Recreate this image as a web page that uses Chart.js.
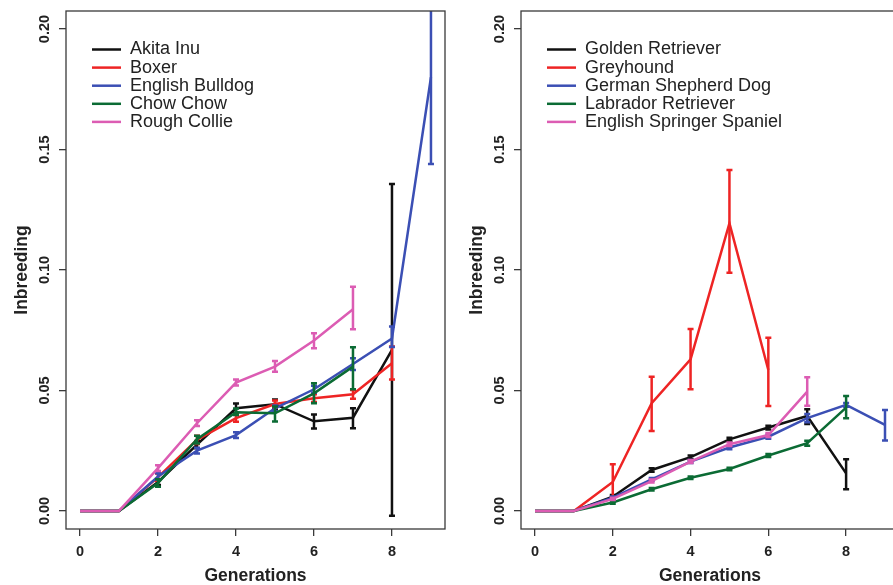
<!DOCTYPE html>
<html>
<head>
<meta charset="utf-8">
<script src="https://cdn.jsdelivr.net/npm/chart.js@4"></script>
<style>
  html, body { margin: 0; padding: 0; background: #fff; overflow: hidden; }
  #wrap { position: relative; width: 893px; height: 585px; overflow: hidden; }
  canvas { position: absolute; top: 0; }
  #left { left: 0; }
  #right { left: 455px; }
</style>
</head>
<body>
<div id="wrap">
  <canvas id="left" width="450" height="585"></canvas>
  <canvas id="right" width="449" height="585"></canvas>
</div>
<script>
// x values (generations) and axis ticks
const generations = [0, 1, 2, 3, 4, 5, 6, 7, 8, 9];
const xTickValues = [0, 2, 4, 6, 8];
const yTickValues = [0, 0.05, 0.10, 0.15, 0.20];

const breedColors = ['#111111', '#ee2424', '#3b4fb4', '#0b6b34', '#dc5cb3'];

// left panel
const leftBreeds = ['Akita Inu', 'Boxer', 'English Bulldog', 'Chow Chow', 'Rough Collie'];
const akitaInu      = [0, 0, 0.0120, 0.0275, 0.0426, 0.0443, 0.0372, 0.0387, 0.0668];
const akitaInuLow   = [null, null, 0.0108, 0.0260, 0.0406, 0.0423, 0.0342, 0.0343, -0.0020];
const akitaInuHigh  = [null, null, 0.0132, 0.0290, 0.0446, 0.0463, 0.0400, 0.0426, 0.1357];
const boxer         = [0, 0, 0.0140, 0.0295, 0.0385, 0.0444, 0.0468, 0.0484, 0.0613];
const boxerLow      = [null, null, 0.0125, 0.0278, 0.0370, 0.0430, 0.0452, 0.0466, 0.0546];
const boxerHigh     = [null, null, 0.0155, 0.0312, 0.0400, 0.0458, 0.0484, 0.0502, 0.0682];
const bulldog       = [0, 0, 0.0143, 0.0250, 0.0315, 0.0426, 0.0505, 0.0610, 0.0716, 0.1800];
const bulldogLow    = [null, null, 0.0130, 0.0238, 0.0303, 0.0414, 0.0490, 0.0585, 0.0680, 0.1440];
const bulldogHigh   = [null, null, 0.0156, 0.0262, 0.0327, 0.0438, 0.0520, 0.0634, 0.0765, 0.2150];
const chowChow      = [0, 0, 0.0116, 0.0298, 0.0410, 0.0405, 0.0488, 0.0599];
const chowChowLow   = [null, null, 0.0100, 0.0280, 0.0398, 0.0371, 0.0447, 0.0505];
const chowChowHigh  = [null, null, 0.0132, 0.0312, 0.0425, 0.0433, 0.0530, 0.0679];
const roughCollie   = [0, 0, 0.0178, 0.0364, 0.0533, 0.0599, 0.0707, 0.0837];
const roughCollieLow  = [null, null, 0.0166, 0.0352, 0.0521, 0.0578, 0.0675, 0.0754];
const roughCollieHigh = [null, null, 0.0190, 0.0376, 0.0546, 0.0622, 0.0737, 0.0930];

// right panel
const rightBreeds = ['Golden Retriever', 'Greyhound', 'German Shepherd Dog', 'Labrador Retriever', 'English Springer Spaniel'];
const golden        = [0, 0, 0.0059, 0.0170, 0.0223, 0.0297, 0.0346, 0.0394, 0.0156];
const goldenLow     = [null, null, 0.0052, 0.0163, 0.0216, 0.0290, 0.0338, 0.0361, 0.0090];
const goldenHigh    = [null, null, 0.0066, 0.0177, 0.0230, 0.0304, 0.0354, 0.0422, 0.0214];
const greyhound     = [0, 0, 0.0120, 0.0447, 0.0629, 0.1194, 0.0585];
const greyhoundLow  = [null, null, 0.0057, 0.0332, 0.0505, 0.0989, 0.0436];
const greyhoundHigh = [null, null, 0.0194, 0.0557, 0.0755, 0.1415, 0.0719];
const shepherd      = [0, 0, 0.0055, 0.0131, 0.0205, 0.0263, 0.0308, 0.0385, 0.0440, 0.0357];
const shepherdLow   = [null, null, 0.0050, 0.0125, 0.0199, 0.0256, 0.0300, 0.0368, 0.0432, 0.0292];
const shepherdHigh  = [null, null, 0.0060, 0.0137, 0.0211, 0.0270, 0.0316, 0.0402, 0.0448, 0.0419];
const labrador      = [0, 0, 0.0035, 0.0090, 0.0138, 0.0174, 0.0230, 0.0281, 0.0429];
const labradorLow   = [null, null, 0.0030, 0.0085, 0.0133, 0.0169, 0.0224, 0.0271, 0.0385];
const labradorHigh  = [null, null, 0.0040, 0.0095, 0.0143, 0.0179, 0.0236, 0.0291, 0.0477];
const springer      = [0, 0, 0.0050, 0.0124, 0.0205, 0.0277, 0.0315, 0.0495];
const springerLow   = [null, null, 0.0045, 0.0118, 0.0199, 0.0270, 0.0307, 0.0437];
const springerHigh  = [null, null, 0.0055, 0.0130, 0.0211, 0.0284, 0.0323, 0.0555];

Chart.defaults.font.family = "'Liberation Sans', Arial, Helvetica, sans-serif";

function buildDatasets(labels, values, lows, highs) {
  return labels.map((label, i) => ({
    label: label,
    data: values[i].map((v, g) => ({ x: generations[g], y: v })),
    errLow: lows[i],
    errHigh: highs[i],
    borderColor: breedColors[i],
    backgroundColor: breedColors[i],
    borderWidth: 2.5,
    pointRadius: 0,
    tension: 0,
    fill: false,
    order: -i, // later breeds drawn on top
  }));
}

// vertical error bars with small caps, drawn right after each line
const errorBars = {
  id: 'errorBars',
  afterDatasetDraw(chart, args) {
    const ds = chart.data.datasets[args.index];
    const xs = chart.scales.x, ys = chart.scales.y;
    const ctx = chart.ctx, a = chart.chartArea;
    ctx.save();
    ctx.beginPath();
    ctx.rect(a.left, a.top, a.right - a.left, a.bottom - a.top);
    ctx.clip();
    ctx.strokeStyle = ds.borderColor;
    ctx.lineWidth = 2.5;
    ds.data.forEach((p, i) => {
      const lo = ds.errLow[i], hi = ds.errHigh[i];
      if (lo == null) return;
      const px = xs.getPixelForValue(p.x);
      const y1 = ys.getPixelForValue(lo), y2 = ys.getPixelForValue(hi);
      ctx.beginPath();
      ctx.moveTo(px, y1); ctx.lineTo(px, y2);
      ctx.moveTo(px - 3, y1); ctx.lineTo(px + 3, y1);
      ctx.moveTo(px - 3, y2); ctx.lineTo(px + 3, y2);
      ctx.stroke();
    });
    ctx.restore();
  }
};

// box around the plot plus the key in its top left corner
const frameAndKey = {
  id: 'frameAndKey',
  afterDraw(chart) {
    const ctx = chart.ctx, a = chart.chartArea;
    ctx.save();
    ctx.strokeStyle = '#3a3a3a';
    ctx.lineWidth = 1.3;
    ctx.strokeRect(a.left, a.top, a.right - a.left, a.bottom - a.top);
    ctx.font = "18px 'Liberation Sans', Arial, sans-serif";
    ctx.textBaseline = 'middle';
    ctx.fillStyle = '#222';
    chart.data.datasets.forEach((ds, i) => {
      const yy = a.top + 38.5 + i * 18.1;
      ctx.strokeStyle = ds.borderColor;
      ctx.lineWidth = 2.5;
      ctx.beginPath();
      ctx.moveTo(a.left + 26, yy);
      ctx.lineTo(a.left + 55, yy);
      ctx.stroke();
      ctx.fillText(ds.label, a.left + 64, yy);
    });
    ctx.restore();
  }
};

function makeChart(id, datasets) {
  return new Chart(document.getElementById(id), {
    type: 'line',
    data: { datasets: datasets },
    plugins: [errorBars, frameAndKey],
    options: {
      responsive: false,
      animation: false,
      devicePixelRatio: 1,
      layout: { padding: { left: 0, top: 11, right: 5, bottom: 0 } },
      plugins: { legend: { display: false }, tooltip: { enabled: false } },
      scales: {
        x: {
          type: 'linear',
          min: -0.36,
          max: 9.36,
          afterBuildTicks: s => { s.ticks = xTickValues.map(v => ({ value: v })); },
          afterFit: s => { s.height = 56; },
          grid: { drawOnChartArea: false, drawTicks: true, tickLength: 7, color: '#3a3a3a', lineWidth: 1.3 },
          border: { display: false },
          ticks: {
            autoSkip: false, maxRotation: 0, padding: 7, color: '#222',
            font: { size: 14.5, weight: 'bold' },
            callback: v => String(v),
          },
          title: {
            display: true, text: 'Generations', color: '#222',
            font: { size: 17.5, weight: 'bold', lineHeight: 1 }, padding: { top: 0, bottom: 0 },
          },
        },
        y: {
          type: 'linear',
          min: -0.0075,
          max: 0.2075,
          afterBuildTicks: s => { s.ticks = yTickValues.map(v => ({ value: v })); },
          afterFit: s => { s.width = 66; },
          grid: { drawOnChartArea: false, drawTicks: true, tickLength: 7, color: '#3a3a3a', lineWidth: 1.3 },
          border: { display: false },
          ticks: {
            autoSkip: false, minRotation: 90, maxRotation: 90, crossAlign: 'center',
            padding: 0, color: '#222',
            font: { size: 14.5, weight: 'bold' },
            callback: v => v.toFixed(2),
          },
          title: {
            display: true, text: 'Inbreeding', color: '#222',
            font: { size: 17.5, weight: 'bold', lineHeight: 1 }, padding: { top: 13, bottom: 0 },
          },
        },
      },
    },
  });
}

makeChart('left', buildDatasets(
  leftBreeds,
  [akitaInu, boxer, bulldog, chowChow, roughCollie],
  [akitaInuLow, boxerLow, bulldogLow, chowChowLow, roughCollieLow],
  [akitaInuHigh, boxerHigh, bulldogHigh, chowChowHigh, roughCollieHigh]
));

makeChart('right', buildDatasets(
  rightBreeds,
  [golden, greyhound, shepherd, labrador, springer],
  [goldenLow, greyhoundLow, shepherdLow, labradorLow, springerLow],
  [goldenHigh, greyhoundHigh, shepherdHigh, labradorHigh, springerHigh]
));
</script>
</body>
</html>
